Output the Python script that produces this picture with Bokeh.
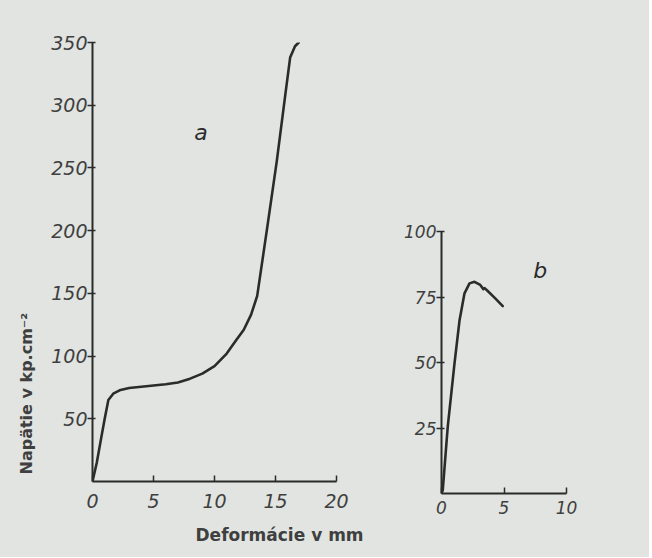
from bokeh.plotting import figure
from bokeh.layouts import row
from bokeh.models import Range1d, FixedTicker, Label, Title
from bokeh.embed import file_html
from bokeh.resources import INLINE

# ---- data: curve a (deformation mm, stress kp/cm2)
a_def = [0, 0.35, 0.7, 1.0, 1.3, 1.7, 2.3, 3.0, 4.0, 5.0, 6.0, 7.0, 8.0, 9.0,
         10.0, 11.0, 11.8, 12.4, 13.0, 13.5, 14.3, 15.1, 15.8, 16.2, 16.6, 16.9]
a_str = [0, 15, 34, 50, 65, 70, 73, 74.5, 75.5, 76.5, 77.5, 79, 82, 86,
         92, 102, 113, 121, 133, 148, 201, 255, 308, 338, 347, 350]

# ---- data: curve b (two pieces)
b1_def = [0, 0.1, 0.5, 1.04, 1.44, 1.84, 2.24, 2.64, 3.1, 3.35]
b1_str = [0, 1.3, 25.5, 49.7, 66, 76.4, 80.2, 80.8, 79.6, 78.0]
b2_def = [3.45, 3.7, 4.3, 4.9]
b2_str = [78.4, 77.3, 74.5, 71.5]

a_xticks = [0, 5, 10, 15, 20]
a_yticks = [50, 100, 150, 200, 250, 300, 350]
b_xticks = [0, 5, 10]
b_yticks = [25, 50, 75, 100]

y_title = "Napätie v kp.cm⁻²"
x_title = "Deformácie v mm"

PAPER = "#e1e4e0"
INK = "#2b2b2b"
TXT = "#3f3f3f"
FONT = "DejaVu Sans"


def style(p, size, xstand):
    p.grid.visible = False
    p.outline_line_color = None
    p.background_fill_color = PAPER
    p.border_fill_color = PAPER
    for ax in (p.xaxis[0], p.yaxis[0]):
        ax.axis_line_color = INK
        ax.axis_line_width = 2
        ax.major_tick_line_color = INK
        ax.major_tick_line_width = 1.5
        ax.minor_tick_line_color = None
        ax.major_label_text_font = FONT
        ax.major_label_text_font_style = "italic"
        ax.major_label_text_font_size = size
        ax.major_label_text_color = TXT
    p.xaxis.major_tick_in = 6
    p.xaxis.major_tick_out = 0
    p.xaxis.major_label_standoff = xstand
    p.yaxis.major_tick_in = 3
    p.yaxis.major_tick_out = 5
    p.yaxis.major_label_standoff = 0


p1 = figure(frame_width=244, frame_height=439, min_border_left=92,
            min_border_right=40, min_border_top=42, min_border_bottom=74,
            x_range=Range1d(0, 20), y_range=Range1d(0, 350), frame_align=False,
            output_backend="svg", toolbar_location=None)
style(p1, "19px", 12)
p1.xaxis.ticker = FixedTicker(ticks=a_xticks)
p1.yaxis.ticker = FixedTicker(ticks=a_yticks)
p1.line(a_def, a_str, line_color=INK, line_width=2.6, line_join="round", line_cap="round")
p1.add_layout(Label(x=8.9, y=278, text="a", text_font=FONT, text_font_style="italic",
                    text_font_size="22px", text_color=INK, text_align="center",
                    text_baseline="middle"))
p1.add_layout(Title(text=y_title, align="left", offset=7, standoff=25,
                    text_font=FONT, text_font_style="bold", text_font_size="16px",
                    text_color=TXT), "left")
p1.add_layout(Title(text=x_title, align="left", offset=103, standoff=25,
                    text_font=FONT, text_font_style="bold", text_font_size="17px",
                    text_color=TXT), "below")

p2 = figure(frame_width=125, frame_height=262, min_border_left=65,
            min_border_right=83, min_border_top=231, min_border_bottom=64,
            x_range=Range1d(0, 10), y_range=Range1d(0, 100), frame_align=False,
            output_backend="svg", toolbar_location=None)
style(p2, "17px", 7)
p2.xaxis.ticker = FixedTicker(ticks=b_xticks)
p2.yaxis.ticker = FixedTicker(ticks=b_yticks)
p2.line(b1_def, b1_str, line_color=INK, line_width=2.6, line_join="round", line_cap="round")
p2.line(b2_def, b2_str, line_color=INK, line_width=2.6, line_join="round", line_cap="round")
p2.add_layout(Label(x=7.9, y=85.3, text="b", text_font=FONT, text_font_style="italic",
                    text_font_size="22px", text_color=INK, text_align="center",
                    text_baseline="middle"))

layout = row(p1, p2, styles={"background-color": PAPER})
open("out.html", "w").write(file_html(layout, INLINE))
